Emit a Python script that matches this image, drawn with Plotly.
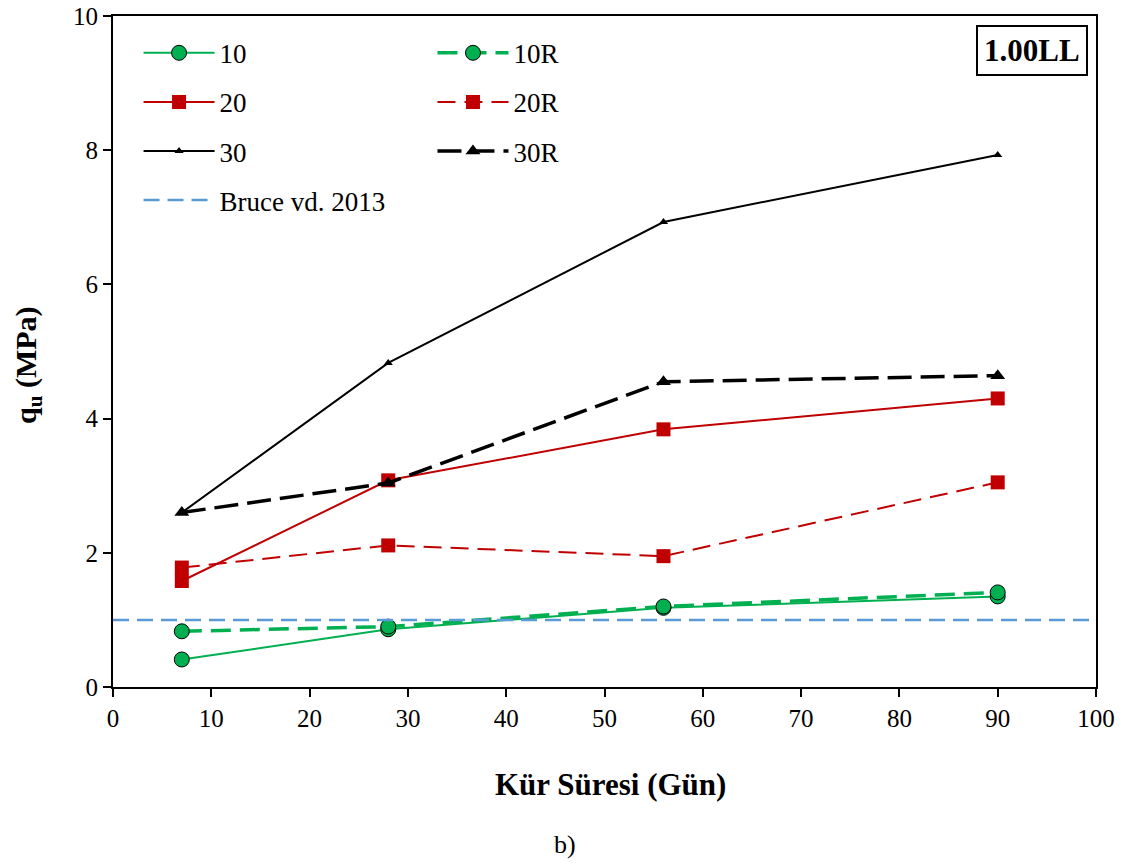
import plotly.graph_objects as go

days = [7, 28, 56, 90]
q10 = [0.41, 0.86, 1.18, 1.35]
q10R = [0.83, 0.90, 1.20, 1.41]
q20 = [1.58, 3.08, 3.84, 4.30]
q20R = [1.78, 2.11, 1.95, 3.05]
q30 = [2.60, 4.83, 6.93, 7.93]
q30R = [2.60, 3.04, 4.55, 4.64]
bruce_x = [0, 100]
bruce_y = [1.0, 1.0]

GREEN = "#00B050"
RED = "#C00000"
BLUE = "#5B9BD5"
FONT = "Liberation Serif, Times New Roman, serif"

fig = go.Figure()

fig.add_trace(go.Scatter(x=days, y=q10, name="10", mode="lines+markers",
                         line=dict(color=GREEN, width=2),
                         marker=dict(symbol="circle", size=15, color=GREEN, line=dict(color="black", width=1)),
                         legend="legend", legendgroup="a"))
fig.add_trace(go.Scatter(x=days, y=q10R, name="10R", mode="lines+markers",
                         line=dict(color=GREEN, width=3.5, dash="20px,9px"),
                         marker=dict(symbol="circle", size=15, color=GREEN, line=dict(color="black", width=1)),
                         legend="legend2", legendgroup="b"))
fig.add_trace(go.Scatter(x=days, y=q20, name="20", mode="lines+markers",
                         line=dict(color=RED, width=2),
                         marker=dict(symbol="square", size=14, color=RED),
                         legend="legend", legendgroup="c"))
fig.add_trace(go.Scatter(x=days, y=q20R, name="20R", mode="lines+markers",
                         line=dict(color=RED, width=2, dash="18px,9px"),
                         marker=dict(symbol="square", size=14, color=RED),
                         legend="legend2", legendgroup="d"))
fig.add_trace(go.Scatter(x=days, y=q30, name="30", mode="lines+markers",
                         line=dict(color="black", width=2),
                         marker=dict(symbol="triangle-up", size=8, color="black"),
                         legend="legend", legendgroup="e"))
fig.add_trace(go.Scatter(x=days, y=q30R, name="30R", mode="lines+markers",
                         line=dict(color="black", width=3.5, dash="24px,9px"),
                         marker=dict(symbol="triangle-up", size=13, color="black"),
                         legend="legend2", legendgroup="f"))
fig.add_trace(go.Scatter(x=bruce_x, y=bruce_y, name="Bruce vd. 2013", mode="lines",
                         line=dict(color=BLUE, width=2.5, dash="16px,8px"),
                         legend="legend", legendgroup="g"))

axis_common = dict(showline=True, linecolor="black", linewidth=2, mirror=True,
                   ticks="outside", ticklen=8, tickwidth=1.5, tickcolor="black",
                   showgrid=False, zeroline=False, automargin=False,
                   tickfont=dict(family=FONT, size=25, color="black"))

fig.update_xaxes(range=[0, 100], dtick=10, tick0=0, **axis_common)
fig.update_yaxes(range=[0, 10], dtick=2, tick0=0, **axis_common)

legend_common = dict(font=dict(family=FONT, size=27, color="black"), bgcolor="rgba(0,0,0,0)",
                     traceorder="grouped", tracegroupgap=11, itemwidth=71,
                     xanchor="left", yanchor="top")
fig.update_layout(
    legend=dict(x=0.026, y=0.981, **legend_common),
    legend2=dict(x=0.325, y=0.981, **legend_common),
    width=1126, height=864,
    margin=dict(l=113, r=30, t=16, b=177),
    plot_bgcolor="white", paper_bgcolor="white",
    annotations=[
        dict(text="<b>1.00LL</b>", x=0.9915, y=0.9866, xref="paper", yref="paper",
             xanchor="right", yanchor="top", showarrow=False,
             font=dict(family=FONT, size=31, color="black"),
             bordercolor="black", borderwidth=2, borderpad=6, bgcolor="white"),
        dict(text="<b>Kür Süresi (Gün)</b>", x=0.5056, y=-0.1446, xref="paper", yref="paper",
             xanchor="center", yanchor="middle", showarrow=False,
             font=dict(family=FONT, size=31, color="black")),
        dict(text="<b>q<sub>u</sub> (MPa)</b>", x=-0.0865, y=0.48, xref="paper", yref="paper",
             xanchor="center", yanchor="middle", showarrow=False, textangle=-90,
             font=dict(family=FONT, size=30, color="black")),
        dict(text="b)", x=0.46, y=-0.21, xref="paper", yref="paper",
             xanchor="center", yanchor="top", showarrow=False,
             font=dict(family=FONT, size=26, color="black")),
    ],
)

fig.write_html("out.html")
